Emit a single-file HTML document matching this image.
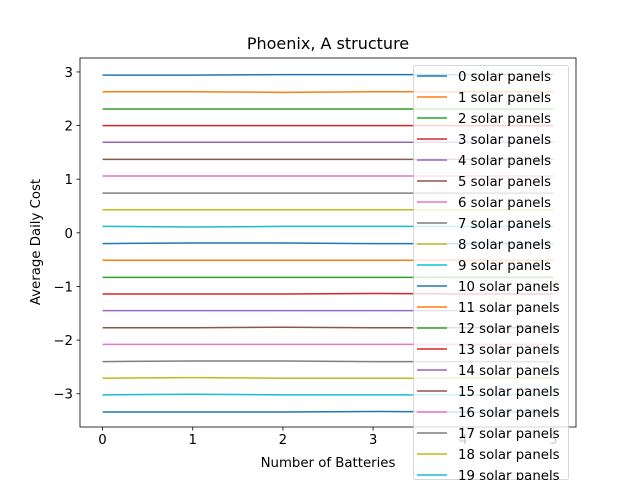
<!DOCTYPE html>
<html><head><meta charset="utf-8"><style>
html,body{margin:0;background:#fff;overflow:hidden;width:640px;height:480px}
svg{display:block;overflow:hidden;font-family:"DejaVu Sans","Liberation Sans",sans-serif}
</style></head><body>
<svg id="chart" width="640" height="480" viewBox="0 0 640 480" xmlns="http://www.w3.org/2000/svg">
<rect width="640" height="480" fill="#fff"/>
<text x="328" y="49" font-size="16" text-anchor="middle" fill="#000">Phoenix, A structure</text>
<g id="plot"></g>
<text x="328" y="467" font-size="13.3" text-anchor="middle">Number of Batteries</text>
<text transform="translate(40,242) rotate(-90)" font-size="13.3" text-anchor="middle">Average Daily Cost</text>
</svg>
<script>
const batteries = [0, 1, 2, 3, 4, 5];
const seriesNames = ["0 solar panels","1 solar panels","2 solar panels","3 solar panels","4 solar panels","5 solar panels","6 solar panels","7 solar panels","8 solar panels","9 solar panels","10 solar panels","11 solar panels","12 solar panels","13 solar panels","14 solar panels","15 solar panels","16 solar panels","17 solar panels","18 solar panels","19 solar panels","20 solar panels"];
const s0=[2.94,2.94,2.95,2.95,2.95,2.95];
const s1=[2.63,2.63,2.62,2.63,2.63,2.63];
const s2=[2.31,2.31,2.31,2.31,2.31,2.31];
const s3=[2.00,2.00,2.00,2.00,2.00,2.00];
const s4=[1.69,1.69,1.69,1.69,1.69,1.69];
const s5=[1.37,1.37,1.37,1.37,1.37,1.37];
const s6=[1.06,1.06,1.06,1.06,1.06,1.06];
const s7=[0.74,0.74,0.74,0.74,0.74,0.74];
const s8=[0.43,0.43,0.43,0.43,0.43,0.43];
const s9=[0.12,0.11,0.12,0.12,0.12,0.12];
const s10=[-0.20,-0.19,-0.19,-0.20,-0.20,-0.20];
const s11=[-0.51,-0.51,-0.51,-0.51,-0.51,-0.51];
const s12=[-0.83,-0.83,-0.83,-0.83,-0.83,-0.83];
const s13=[-1.14,-1.14,-1.14,-1.13,-1.14,-1.14];
const s14=[-1.45,-1.45,-1.45,-1.45,-1.45,-1.45];
const s15=[-1.77,-1.77,-1.76,-1.77,-1.77,-1.77];
const s16=[-2.08,-2.08,-2.08,-2.08,-2.08,-2.08];
const s17=[-2.40,-2.39,-2.39,-2.40,-2.40,-2.40];
const s18=[-2.71,-2.70,-2.71,-2.71,-2.71,-2.71];
const s19=[-3.02,-3.01,-3.02,-3.02,-3.02,-3.02];
const s20=[-3.34,-3.34,-3.34,-3.33,-3.34,-3.34];
const allSeries=[s0,s1,s2,s3,s4,s5,s6,s7,s8,s9,s10,s11,s12,s13,s14,s15,s16,s17,s18,s19,s20];
const xTicks=[0,1,2,3,4,5];
const yTicks=[-3,-2,-1,0,1,2,3];
const colors=["#1f77b4","#ff7f0e","#2ca02c","#d62728","#9467bd","#8c564b","#e377c2","#7f7f7f","#bcbd22","#17becf"];
const L=80,R=576,T=58,B=427;
const xMin=-0.25,xMax=5.25,yMin=-3.62,yMax=3.26;
function xs(v){return L+(v-xMin)/(xMax-xMin)*(R-L);}
function ys(v){return B-(v-yMin)/(yMax-yMin)*(B-T);}
const NS="http://www.w3.org/2000/svg";
const g=document.getElementById('plot');
function mk(t,a,p){const e=document.createElementNS(NS,t);for(const k in a)e.setAttribute(k,a[k]);(p||g).appendChild(e);return e;}
allSeries.forEach((s,i)=>{
  const d=s.map((v,j)=>(j?'L':'M')+xs(batteries[j]).toFixed(2)+','+ys(v).toFixed(2)).join(' ');
  const p=mk('path',{d:d,fill:'none',stroke:colors[i%10],'stroke-width':1.5});
  
  
});
const frame=mk('rect',{x:L,y:T,width:R-L,height:B-T,fill:'none',stroke:'#000','stroke-width':0.8});


xTicks.forEach(t=>{
  const x=xs(t);
  mk('line',{x1:x,x2:x,y1:B,y2:B+3.5,stroke:'#000','stroke-width':0.8});
  const tx=mk('text',{x:x,y:B+17,'font-size':13.3,'text-anchor':'middle'});
  tx.textContent=t;
  
  
});
yTicks.forEach(t=>{
  const y=ys(t);
  mk('line',{x1:L-3.5,x2:L,y1:y,y2:y,stroke:'#000','stroke-width':0.8});
  const tx=mk('text',{x:L-7,y:y+5,'font-size':13.3,'text-anchor':'end'});
  tx.textContent=t<0?'\u2212'+(-t):t;
  
  
});
const lg=mk('g',{});


mk('rect',{x:413.5,y:65.5,width:155,height:414,rx:2,fill:'rgba(255,255,255,0.8)',stroke:'#ccc','stroke-width':0.8},lg);
seriesNames.forEach((n,i)=>{
  const y=76+i*21;
  if(y-6>480) return;
  mk('line',{x1:417,x2:447,y1:y,y2:y,stroke:colors[i%10],'stroke-width':1.5},lg);
  const tx=mk('text',{x:458,y:y+5,'font-size':13.3},lg);
  tx.textContent=n;
  
  
});
</script>
</body></html>
